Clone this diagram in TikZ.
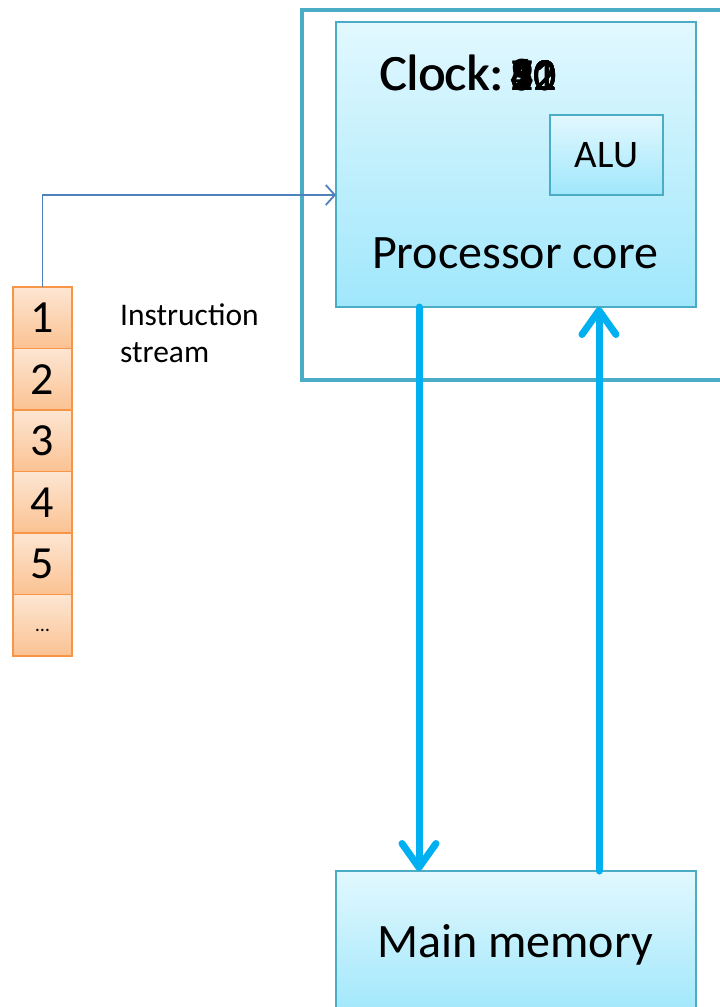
\documentclass[tikz,border=0pt]{standalone}
\usepackage{fontspec}
\setmainfont{Carlito}
\usetikzlibrary{arrows.meta}

\definecolor{framecol}{HTML}{4BACC6}
\definecolor{boxtop}{HTML}{E2F8FE}
\definecolor{boxbot}{HTML}{A0E7FC}
\definecolor{cellline}{HTML}{F79646}
\definecolor{celltop}{HTML}{FDE6D3}
\definecolor{cellbot}{HTML}{FBC292}
\definecolor{busblue}{HTML}{00B0F0}
\definecolor{feedblue}{HTML}{4F81BD}

\begin{document}
\begin{tikzpicture}[x=1pt,y=-1pt,
  unitbox/.style={draw=framecol, line width=1.5pt, top color=boxtop, bottom color=boxbot, inner sep=0pt, outer sep=0pt},
  cell/.style={draw=cellline, line width=1.5pt, top color=celltop, bottom color=cellbot,
    minimum width=59pt, minimum height=61.5pt, inner sep=0pt, outer sep=0pt, font=\fontsize{46}{46}\selectfont},
  bigtext/.style={font=\fontsize{48}{48}\selectfont, inner sep=0pt},
  clocktext/.style={font=\fontsize{51}{51}\selectfont, inner sep=0pt},
  digittext/.style={font=\fontsize{46}{46}\selectfont, inner sep=0pt},
  bus/.style={busblue, line width=7pt, line cap=round, -{Straight Barb[length=24pt,width=34pt,round]}},
  feed/.style={feedblue, line width=1.8pt, -{Straight Barb[length=9pt,width=20pt]}}
]
\useasboundingbox (0,0) rectangle (720,1007);
\fill[white] (0,0) rectangle (720,1007);
\clip (0,0) rectangle (720,1007);

% outer chip frame (runs off the right edge)
\node[draw=framecol, line width=4pt, minimum width=458pt, minimum height=370pt, inner sep=0pt] (chip) at (531,195) {};

% processor core and ALU
\node[unitbox, minimum width=360pt, minimum height=285pt] (core) at (516,164.5) {};
\node[unitbox, minimum width=113pt, minimum height=80pt, font=\fontsize{39}{39}\selectfont] (alu) at (606.5,155) {ALU};
\node[bigtext, anchor=base] (coretext) at (515,268) {Processor core};

% clock counter (several values printed on top of one another)
\node[clocktext, anchor=base west] (clock) at (379,90) {Clock:};
\node[clocktext, anchor=base west] (clockb) at (380,90) {Clock:};
\foreach \v in {10,12,21,30,41,52,60,71,82,92}{
  \node[digittext, anchor=base west] at (510,90) {\v};
}

% main memory (runs off the bottom edge)
\node[unitbox, minimum width=360pt, minimum height=144pt] (mem) at (516,943) {};
\node[bigtext, anchor=base] (memtext) at (515,957) {Main memory};

% instruction stream
\foreach \i/\t [count=\k] in {1/1,2/2,3/3,4/4,5/5,6/{\fontsize{20}{20}\selectfont\raisebox{-12pt}{\dots}}}{
  \node[cell] (c\i) at (42.5,{256.25+61.5*\k}) {\t};
}
\node[font=\fontsize{31.5}{31.5}\selectfont, anchor=base west, inner sep=0pt] (instr1) at (120,325) {Instruction};
\node[font=\fontsize{31.5}{31.5}\selectfont, anchor=base west, inner sep=0pt] (instr2) at (120,362) {stream};

% connectors
\draw[feed] (c1.north) |- ([yshift=-30.5pt]core.west);
\draw[bus] ([xshift=-97pt]core.south) -- ([xshift=-97pt]mem.north);
\draw[bus] ([xshift=83pt]mem.north) -- ([xshift=83pt]core.south);
\end{tikzpicture}
\end{document}
